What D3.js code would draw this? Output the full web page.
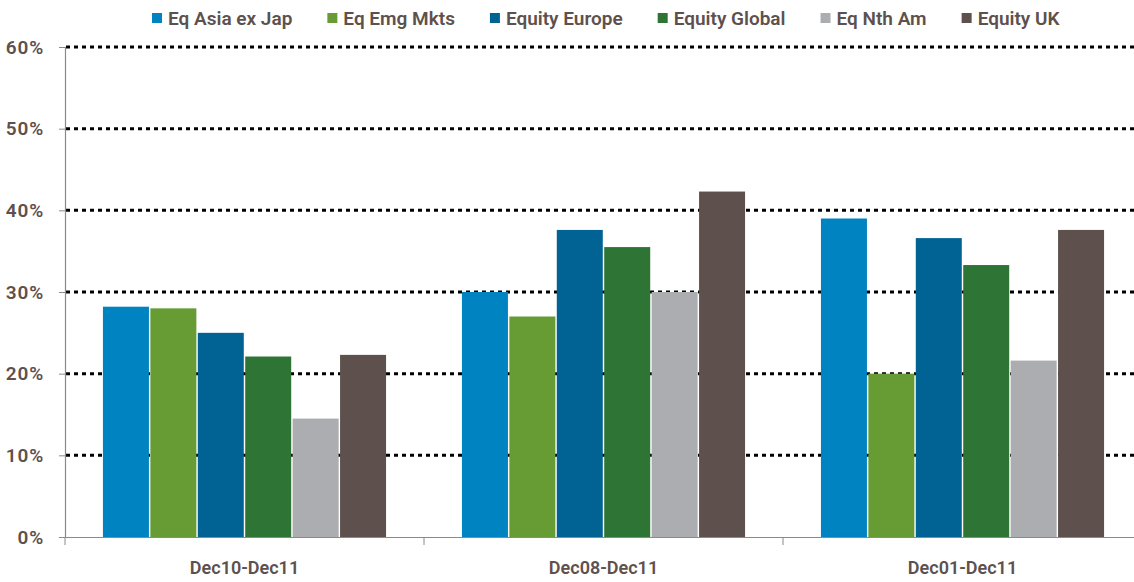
<!DOCTYPE html>
<html>
<head>
<meta charset="utf-8">
<script src="https://cdn.jsdelivr.net/npm/d3@7"></script>
<style>
  body { margin: 0; background: #fff; }
  text { font-family: Roboto, "Open Sans", sans-serif; fill: #5e514d; }
</style>
</head>
<body>
<div class="container"></div>
<script>
const periods = ["Dec10-Dec11", "Dec08-Dec11", "Dec01-Dec11"];
const seriesNames = ["Eq Asia ex Jap", "Eq Emg Mkts", "Equity Europe", "Equity Global", "Eq Nth Am", "Equity UK"];
const seriesColors = ["#0083c1", "#679b34", "#006394", "#2e7535", "#acadb0", "#5e514d"];
const asiaExJap = [28.2, 30.0, 39.0];
const emgMkts = [28.0, 27.0, 20.0];
const europe = [25.0, 37.6, 36.6];
const global = [22.1, 35.5, 33.3];
const nthAm = [14.5, 30.0, 21.6];
const uk = [22.3, 42.3, 37.6];
const yTicks = [0, 10, 20, 30, 40, 50, 60];

const seriesValues = [asiaExJap, emgMkts, europe, global, nthAm, uk];

const width = 1134;
const height = 582;
const margin = {top: 47, right: -8, bottom: 45, left: 65};

const svg = d3.select(".container").append("svg").attr("width", width).attr("height", height);

const x0 = d3.scaleBand().domain(periods).range([margin.left, width - margin.right]);
const x1 = d3.scaleBand().domain(seriesNames).range([0, x0.bandwidth()]).paddingOuter(0.8).paddingInner(0.03);
const y = d3.scaleLinear().domain([0, 60]).range([height - margin.bottom, margin.top]);
const color = d3.scaleOrdinal().domain(seriesNames).range(seriesColors);

// dotted gridlines
svg.append("g")
  .selectAll("line")
  .data(yTicks.filter(d => d > 0))
  .enter().append("line")
    .attr("x1", margin.left + 1)
    .attr("x2", width)
    .attr("y1", d => y(d))
    .attr("y2", d => y(d))
    .attr("stroke", "#000")
    .attr("stroke-width", 3)
    .attr("stroke-dasharray", "4,4");

// bars
const groups = svg.append("g")
  .selectAll("g")
  .data(periods)
  .enter().append("g")
    .attr("transform", d => `translate(${x0(d)},0)`);

groups.selectAll("rect")
  .data((p, i) => seriesNames.map((s, j) => ({series: s, value: seriesValues[j][i]})))
  .enter().append("rect")
    .attr("x", d => x1(d.series))
    .attr("width", x1.bandwidth())
    .attr("y", d => y(d.value))
    .attr("height", d => y(0) - y(d.value))
    .attr("fill", d => color(d.series));

// y axis
const yAxis = svg.append("g")
  .attr("transform", `translate(${margin.left},0)`)
  .call(d3.axisLeft(y).tickValues(yTicks).tickFormat(d => d + "%").tickSize(6).tickPadding(15));
yAxis.select(".domain").attr("stroke", "#8a8a8a").attr("stroke-width", 1.2);
yAxis.selectAll(".tick line").attr("stroke", "#8a8a8a");
yAxis.selectAll("text").attr("font-size", 19).attr("font-weight", 600)
  .style("letter-spacing", "0.8px").attr("fill", "#5e514d");

// x axis
const xAxis = svg.append("g")
  .attr("transform", `translate(0,${y(0)})`)
  .call(d3.axisBottom(x0).tickSize(0).tickPadding(24));
xAxis.select(".domain").attr("stroke", "#8a8a8a").attr("stroke-width", 1.2);
xAxis.selectAll("text").attr("font-size", 18).attr("font-weight", 600).attr("fill", "#5e514d");

svg.append("g")
  .selectAll("line")
  .data(periods)
  .enter().append("line")
    .attr("x1", d => x0(d))
    .attr("x2", d => x0(d))
    .attr("y1", y(0))
    .attr("y2", y(0) + 8)
    .attr("stroke", "#8a8a8a");

// legend
const legend = svg.append("g").attr("transform", "translate(152,18)");
let lx = 0;
seriesNames.forEach((s, i) => {
  const item = legend.append("g").attr("transform", `translate(${lx},0)`);
  item.append("rect")
    .attr("x", 0).attr("y", -5)
    .attr("width", 10).attr("height", 10)
    .attr("fill", color(s));
  const t = item.append("text")
    .attr("x", 16).attr("dy", "0.35em")
    .attr("font-size", 19).attr("font-weight", 600)
    .text(s);
  lx += 16 + t.node().getComputedTextLength() + 35;
});
</script>
</body>
</html>
